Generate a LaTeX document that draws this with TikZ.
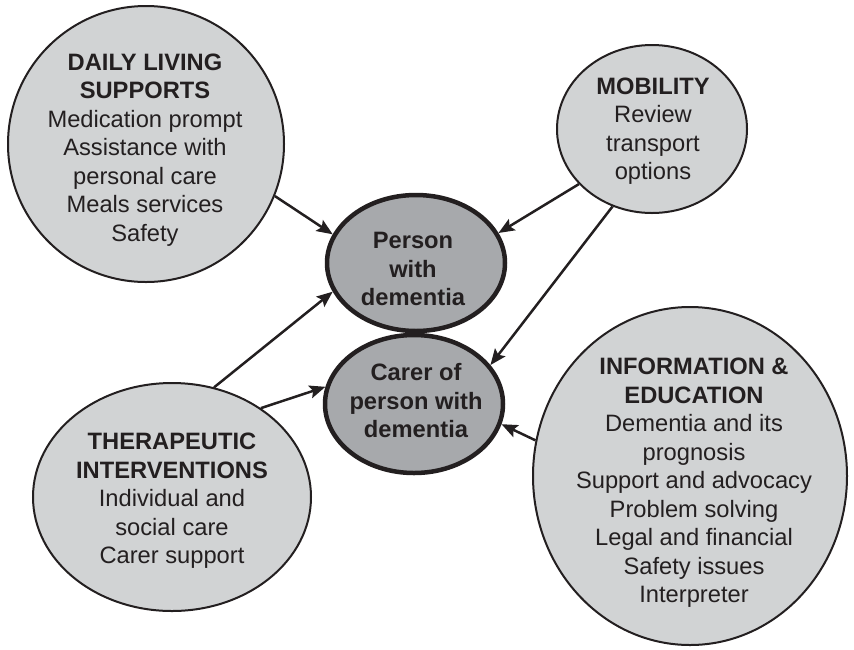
\documentclass[tikz,border=0pt]{standalone}
\usepackage{fontspec}
\setmainfont{Liberation Sans}
\usetikzlibrary{shapes.geometric,arrows.meta}
\definecolor{outerfill}{HTML}{D1D3D4}
\definecolor{innerfill}{HTML}{A7A9AC}
\definecolor{ink}{HTML}{231F20}
\begin{document}
\begin{tikzpicture}[x=1pt,y=-1pt,
  topic/.style={ellipse, draw=ink, fill=outerfill, line width=2pt, inner sep=0pt},
  core/.style={ellipse, draw=ink, fill=innerfill, line width=4.5pt, inner sep=0pt},
  txt/.style={align=center, text=ink, inner sep=0pt, font=\fontsize{23.7}{28.5}\selectfont},
  link/.style={draw=ink, line width=2.5pt, -{Stealth[length=16pt,width=13pt,inset=3pt]}}]

\useasboundingbox (0,0) rectangle (854,649);

% surrounding service areas
\node[topic, minimum width=276pt, minimum height=276pt] (daily) at (146,144) {};
\node[topic, minimum width=190pt, minimum height=168pt] (mob) at (652,129) {};
\node[topic, minimum width=278pt, minimum height=228pt] (ther) at (172,497) {};
\node[topic, minimum width=314pt, minimum height=338pt] (info) at (690,476) {};

% central pair
\node[core, minimum width=178pt, minimum height=136pt] (person) at (416,263) {};
\node[core, minimum width=178pt, minimum height=138pt] (carer) at (414,404) {};

% texts
\node[txt] (dailytext) at (145,150) {\textbf{DAILY LIVING}\\\textbf{SUPPORTS}\\Medication prompt\\Assistance with\\personal care\\Meals services\\Safety};
\node[txt] (mobtext) at (653,131) {\textbf{MOBILITY}\\Review\\transport\\options};
\node[txt] (thertext) at (172,501) {\textbf{THERAPEUTIC}\\\textbf{INTERVENTIONS}\\Individual and\\social care\\Carer support};
\node[txt] (infotext) at (694,483) {\textbf{INFORMATION \&}\\\textbf{EDUCATION}\\Dementia and its\\prognosis\\Support and advocacy\\Problem solving\\Legal and financial\\Safety issues\\Interpreter};
\node[txt, font=\bfseries\fontsize{23.7}{28.5}\selectfont] (persontext) at (413,269) {Person\\with\\dementia};
\node[txt, font=\bfseries\fontsize{23.7}{28.5}\selectfont] (carertext) at (416,401) {Carer of\\person with\\dementia};

% connectors
\draw[link] (daily.-22) -- (person.161.4);
\draw[link] (ther.69.9) -- (person.199.9);
\draw[link] (ther.45.6) -- (carer.169.6);
\draw[link] (mob.217.1) -- (person.20.9);
\draw[link] (mob.243.1) -- (carer.27.7);
\draw[link] (info.167.8) -- (carer.-13.3);
\end{tikzpicture}
\end{document}
